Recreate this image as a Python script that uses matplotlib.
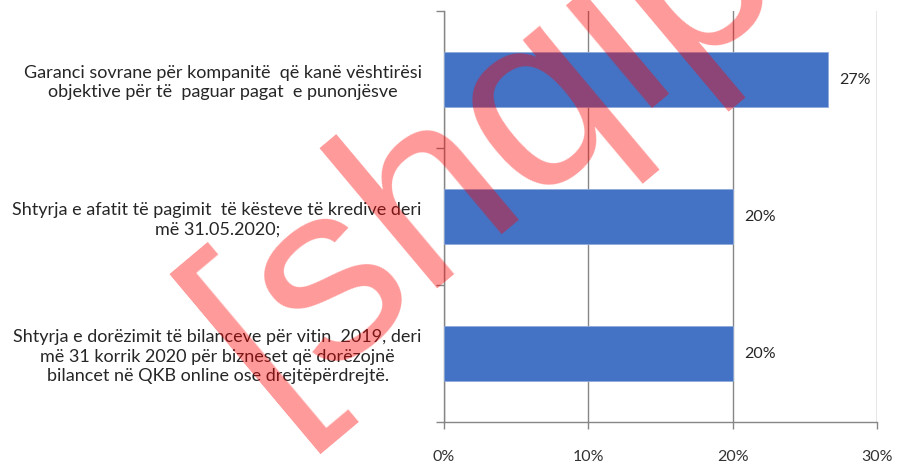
import matplotlib
matplotlib.use("Agg")
import matplotlib.pyplot as plt
from matplotlib.ticker import FixedLocator

categories = [
    "Garanci sovrane për kompanitë  që kanë vështirësi\nobjektive për të  paguar pagat  e punonjësve",
    "Shtyrja e afatit të pagimit  të kësteve të kredive deri\nmë 31.05.2020;",
    "Shtyrja e dorëzimit të bilanceve për vitin  2019, deri\nmë 31 korrik 2020 për bizneset që dorëzojnë\nbilancet në QKB online ose drejtëpërdrejtë.",
]
values = [0.266, 0.20, 0.20]
value_labels = ["27%", "20%", "20%"]
x_ticks = [0, 0.1, 0.2, 0.3]
x_tick_labels = ["0%", "10%", "20%", "30%"]

plt.rcParams['font.family'] = ['Lato', 'DejaVu Sans']

fig = plt.figure(figsize=(9.04, 4.70), dpi=100)
ax = fig.add_axes([0.4912, 0.1021, 0.479, 0.8745])

n = len(categories)
ypos = [n - 1 - i for i in range(n)]
ax.barh(ypos, values, height=0.4, color="#4472C4", edgecolor="#8fa9d9", linewidth=0.6, zorder=3)

for y, v, lab in zip(ypos, values, value_labels):
    ax.annotate(lab, (v, y), xytext=(11, 0), textcoords="offset pixels",
                ha="left", va="center", fontsize=11.5, color="#262626", zorder=4)

ax.set_xlim(0, 0.3)
ax.set_ylim(-0.5, n - 0.5)
ax.set_xticks(x_ticks)
ax.set_xticklabels(x_tick_labels, fontsize=11.5, color="#333333")
ax.set_yticks(ypos)
ax.set_yticklabels(categories, fontsize=13, color="#262626", ha="right",
                   multialignment="center", linespacing=1.25)
ax.yaxis.set_minor_locator(FixedLocator([-0.5 + k for k in range(n + 1)]))

ax.tick_params(axis="y", which="major", length=0, pad=16)
ax.tick_params(axis="y", which="minor", length=6, color="#868686", width=1)
ax.tick_params(axis="x", length=5, color="#868686", width=1, pad=15)

ax.grid(axis="x", color="#868686", linewidth=1, zorder=0)
for s in ["top", "right"]:
    ax.spines[s].set_visible(False)
for s in ["left", "bottom"]:
    ax.spines[s].set_color("#868686")
    ax.spines[s].set_linewidth(1)

# watermark
fig.text(0.298, 0.118, "[shqip", fontsize=182, family="Liberation Sans",
         color="red", alpha=0.4, rotation=40, rotation_mode="anchor",
         ha="left", va="baseline", zorder=10)

fig.savefig("out.png", dpi=100)
